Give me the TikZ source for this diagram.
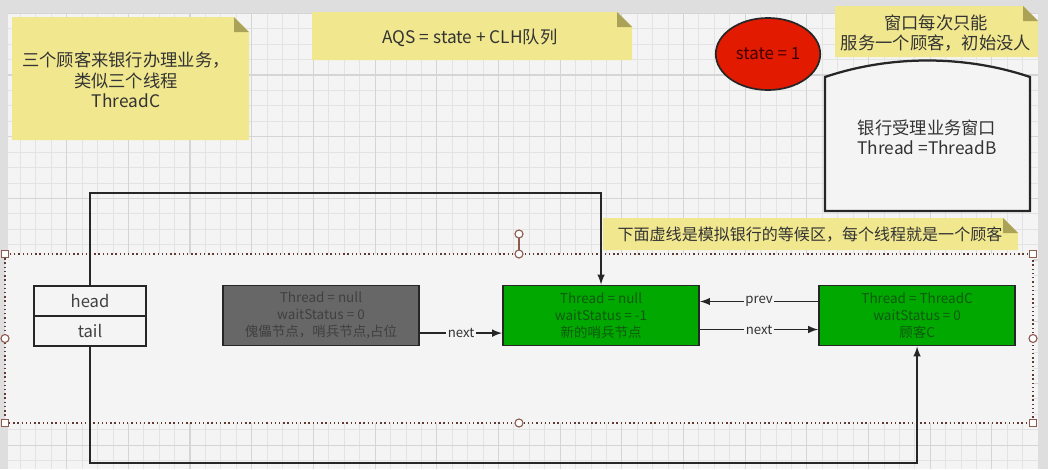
\documentclass[tikz,border=0pt]{standalone}
\usepackage{fontspec}
\setmainfont{Noto Sans CJK SC}
\usepackage{tikz}
\usetikzlibrary{shapes.geometric, positioning, calc}

\definecolor{bgcol}{HTML}{F4F4F4}
\definecolor{stripcol}{HTML}{DEDEDE}
\definecolor{gridminor}{HTML}{E3E3E3}
\definecolor{gridmajor}{HTML}{D5D5D5}
\definecolor{notebg}{HTML}{F0E78F}
\definecolor{notefold}{HTML}{A9A257}
\definecolor{sentgray}{HTML}{676767}
\definecolor{qgreen}{HTML}{00A800}
\definecolor{qgreentext}{HTML}{0F5A0F}
\definecolor{statered}{HTML}{E21A00}
\definecolor{dotbrown}{HTML}{5E3A33}
\definecolor{handlecol}{HTML}{8E5A4E}

% sticky note with folded corner: x1, y1, x2, y2 (pixels)
\newcommand{\drawnote}[4]{%
  \fill[notebg] (#1,#2) -- ({#3-15},#2) -- (#3,{#2+15}) -- (#3,#4) -- (#1,#4) -- cycle;
  \fill[notefold] ({#3-15},#2) -- (#3,{#2+15}) -- ({#3-15},{#2+15}) -- cycle;}

\begin{document}
\begin{tikzpicture}[x=0.025cm, y=-0.025cm, >=latex,
  notetxt/.style={align=center, text=black!80, font=\fontsize{12.3}{14.5}\selectfont},
  qnode/.style={draw=black!85, line width=1.4pt, minimum width=4.9cm, minimum height=1.5cm,
    align=center, inner sep=1pt, font=\fontsize{9.6}{11.9}\selectfont},
  ptr/.style={draw=black!85, line width=1.4pt, fill=bgcol, minimum width=2.8cm,
    minimum height=0.75cm, outer sep=0pt, font=\fontsize{11.8}{13}\selectfont, text=black!75},
  conn/.style={line width=1.4pt, black!85},
  lbl/.style={fill=bgcol, inner sep=1pt, text=black!80, font=\fontsize{9.4}{10}\selectfont},
  handle/.style={draw=handlecol, fill=white, line width=0.8pt}]

  \useasboundingbox (0,0) rectangle (1048,469);

  % --- Background and grid ---
  \fill[stripcol] (0,0) rectangle (1048,469);
  \fill[bgcol] (8,13) rectangle (1038,469);
  \begin{scope}
    \clip (8,13) rectangle (1038,469);
    \foreach \i in {0,...,67}
      \draw[gridminor, line width=0.6pt] ({5+15.42*\i},13) -- ({5+15.42*\i},469);
    \foreach \j in {0,...,30}
      \draw[gridminor, line width=0.6pt] (8,{13.3+15.42*\j}) -- (1038,{13.3+15.42*\j});
    \foreach \i in {0,4,...,64}
      \draw[gridmajor, line width=0.8pt] ({5+15.42*\i},13) -- ({5+15.42*\i},469);
    \foreach \j in {0,4,...,28}
      \draw[gridmajor, line width=0.8pt] (8,{13.3+15.42*\j}) -- (1038,{13.3+15.42*\j});
  \end{scope}

  % --- Notes ---
  \drawnote{12}{17}{249}{140}
  \node[notetxt] (customers) at (126,80) {三个顾客来银行办理业务，\\类似三个线程\\ThreadC};
  \drawnote{312}{12}{632}{60}
  \node[notetxt] (aqs) at (470,38) {AQS = state + CLH队列};
  \drawnote{835}{6}{1038}{57}
  \node[notetxt] (rule) at (936,33) {窗口每次只能\\服务一个顾客，初始没人};

  % --- state ---
  \node[ellipse, draw=black!85, line width=1.2pt, fill=statered, minimum width=2.4cm,
    minimum height=1.8cm, text=black!75!red, font=\fontsize{12}{13}\selectfont]
    (state) at (768,54) {state = 1};

  % --- Bank window ---
  \draw[line width=1.6pt, black!85, fill=bgcol]
    (825,77) .. controls (890,55) and (965,55) .. (1030,77) -- (1030,211) -- (825,211) -- cycle;
  \node[notetxt] (window) at (927,137) {银行受理业务窗口\\Thread =ThreadB};

  % --- Waiting area ---
  \drawnote{603}{218}{1018}{250}
  \node[notetxt, font=\fontsize{11.4}{13}\selectfont] (area) at (810,235)
    {下面虚线是模拟银行的等候区，每个线程就是一个顾客};
  \fill[bgcol] (5,254) rectangle (1033,423);
  \draw[dotbrown, line width=1pt, dotted] (5,254) rectangle (1033,423);
  \draw[handlecol, line width=0.8pt] (519,234) -- (519,254);
  \foreach \p in {(5,254),(1033,254),(5,423),(1033,423)}
    \draw[handle] \p ++(-3.5,-3.5) rectangle ++(7,7);
  \foreach \p in {(5,338.5),(1033,338.5),(519,423),(519,254),(519,234)}
    \draw[handle] \p circle (0.1cm);

  % --- Queue nodes ---
  \node[ptr] (head) at (90,301) {head};
  \node[ptr, anchor=north] (tail) at (head.south) {tail};

  \node[qnode, fill=sentgray, text=black!75] (dummy) at (321,315.5)
    {Thread = null\\waitStatus = 0\\傀儡节点，哨兵节点,占位};
  \node[qnode, fill=qgreen, text=qgreentext, right=2.05cm of dummy] (newsent)
    {Thread = null\\waitStatus = -1\\新的哨兵节点};
  \node[qnode, fill=qgreen, text=qgreentext, right=2.95cm of newsent] (custC)
    {Thread = ThreadC\\waitStatus = 0\\顾客C};

  % --- Pointers ---
  \coordinate (headturn) at (300,193);
  \coordinate (tailturn) at (300,463);
  \draw[conn, ->] (head.north) |- (headturn) -| (newsent.north);
  \draw[conn, ->] (tail.south) |- (tailturn) -| (custC.south);

  \draw[conn, ->] ([yshift=-0.44cm]dummy.east) -- node[lbl] {next} ([yshift=-0.44cm]newsent.west);
  \draw[conn, ->] ([yshift=0.35cm]custC.west) -- node[lbl] {prev} ([yshift=0.35cm]newsent.east);
  \draw[conn, ->] ([yshift=-0.35cm]newsent.east) -- node[lbl] {next} ([yshift=-0.35cm]custC.west);

\end{tikzpicture}
\end{document}
